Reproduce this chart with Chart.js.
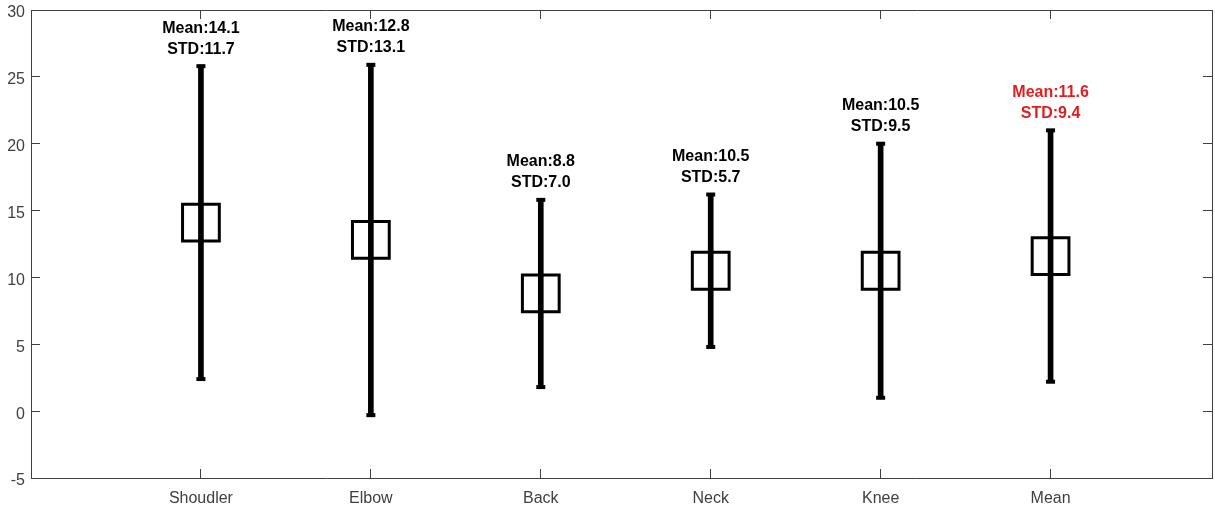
<!DOCTYPE html>
<html>
<head>
<meta charset="utf-8">
<script src="https://cdn.jsdelivr.net/npm/chart.js@4/dist/chart.umd.min.js"></script>
<style>
  body { margin: 0; background: #fff; }
  #wrap { width: 1215px; height: 508px; }
</style>
</head>
<body>
<div id="wrap"><canvas id="chart"></canvas></div>
<script>
// joint categories, mean and standard deviation
var categories = ["Shoudler", "Elbow", "Back", "Neck", "Knee", "Mean"];
var means = [14.1, 12.8, 8.8, 10.5, 10.5, 11.6];
var stds = [11.7, 13.1, 7.0, 5.7, 9.5, 9.4];
var labelColors = ["#000", "#000", "#000", "#000", "#000", "#e01e1e"];
var yTicks = [-5, 0, 5, 10, 15, 20, 25, 30];

var axisColor = '#404040';
var font = "'Liberation Sans', Arial, sans-serif";

// error bar ends = mean +/- std
var whiskers = categories.map((c, i) => ({ x: i + 1, y: [means[i] - stds[i], means[i] + stds[i]] }));
var caps = [];
categories.forEach((c, i) => {
  caps.push({ x: i + 1, y: means[i] - stds[i] });
  caps.push({ x: i + 1, y: means[i] + stds[i] });
});
var boxes = categories.map((c, i) => ({ x: i + 1, y: means[i] }));

// text above each error bar
var statLabels = {
  id: 'statLabels',
  afterDatasetsDraw(chart) {
    var ctx = chart.ctx;
    var xs = chart.scales.x, ys = chart.scales.y;
    ctx.save();
    ctx.font = 'bold 16px ' + font;
    ctx.textAlign = 'center';
    ctx.textBaseline = 'middle';
    categories.forEach((c, i) => {
      var px = xs.getPixelForValue(i + 1);
      var top = ys.getPixelForValue(means[i] + stds[i]);
      ctx.fillStyle = labelColors[i];
      ctx.fillText('Mean:' + means[i].toFixed(1), px, top - 38);
      ctx.fillText('STD:' + stds[i].toFixed(1), px, top - 17);
    });
    ctx.restore();
  }
};

function catTicks(scale) {
  scale.ticks = categories.map((c, i) => ({ value: i + 1 }));
}
function yTickList(scale) {
  scale.ticks = yTicks.map(v => ({ value: v }));
}
// fixed axis sizes, no extra label padding
function fitTo(w, h) {
  return s => {
    if (w !== null) s.width = w;
    if (h !== null) s.height = h;
    s.paddingTop = s.paddingBottom = s.paddingLeft = s.paddingRight = 0;
  };
}

new Chart('chart', {
  type: 'scatter',
  data: {
    datasets: [
      {
        type: 'bar',
        data: whiskers,
        backgroundColor: '#000',
        borderWidth: 0,
        barThickness: 5,
        grouped: false,
        order: 3
      },
      {
        data: caps,
        pointStyle: 'line',
        pointRadius: 4.5,
        borderWidth: 4,
        borderColor: '#000',
        order: 2
      },
      {
        data: boxes,
        pointStyle: 'rect',
        pointRadius: 26,
        borderWidth: 3,
        borderColor: '#000',
        backgroundColor: 'rgba(0,0,0,0)',
        order: 1
      }
    ]
  },
  options: {
    animation: false,
    responsive: true,
    maintainAspectRatio: false,
    layout: { autoPadding: false, padding: { top: 10, right: 3, left: 0, bottom: 0 } },
    plugins: { legend: { display: false }, tooltip: { enabled: false } },
    scales: {
      x: {
        type: 'linear',
        position: 'bottom',
        min: 0,
        max: 6.95,
        offset: false,
        afterBuildTicks: catTicks,
        afterFit: fitTo(null, 30),
        grid: { offset: false, drawOnChartArea: false, drawTicks: true, tickLength: -9, color: axisColor },
        border: { color: axisColor, width: 1 },
        ticks: {
          padding: 20,
          color: axisColor,
          font: { family: font, size: 16 },
          maxRotation: 0,
          autoSkip: false,
          callback: v => categories[v - 1] || ''
        }
      },
      x2: {
        type: 'linear',
        position: 'top',
        min: 0,
        max: 6.95,
        afterBuildTicks: catTicks,
        afterFit: fitTo(null, 0),
        grid: { drawOnChartArea: false, drawTicks: true, tickLength: -9, color: axisColor },
        border: { color: axisColor, width: 1 },
        ticks: { display: false }
      },
      y: {
        type: 'linear',
        position: 'left',
        min: -5,
        max: 30,
        afterBuildTicks: yTickList,
        afterFit: fitTo(31, null),
        grid: { drawOnChartArea: false, drawTicks: true, tickLength: -9, color: axisColor },
        border: { color: axisColor, width: 1 },
        ticks: {
          padding: 15,
          labelOffset: 3,
          color: axisColor,
          font: { family: font, size: 16 }
        }
      },
      y2: {
        type: 'linear',
        position: 'right',
        min: -5,
        max: 30,
        afterBuildTicks: yTickList,
        afterFit: fitTo(0, null),
        grid: { drawOnChartArea: false, drawTicks: true, tickLength: -9, color: axisColor },
        border: { color: axisColor, width: 1 },
        ticks: { display: false }
      }
    }
  },
  plugins: [statLabels]
});
</script>
</body>
</html>
